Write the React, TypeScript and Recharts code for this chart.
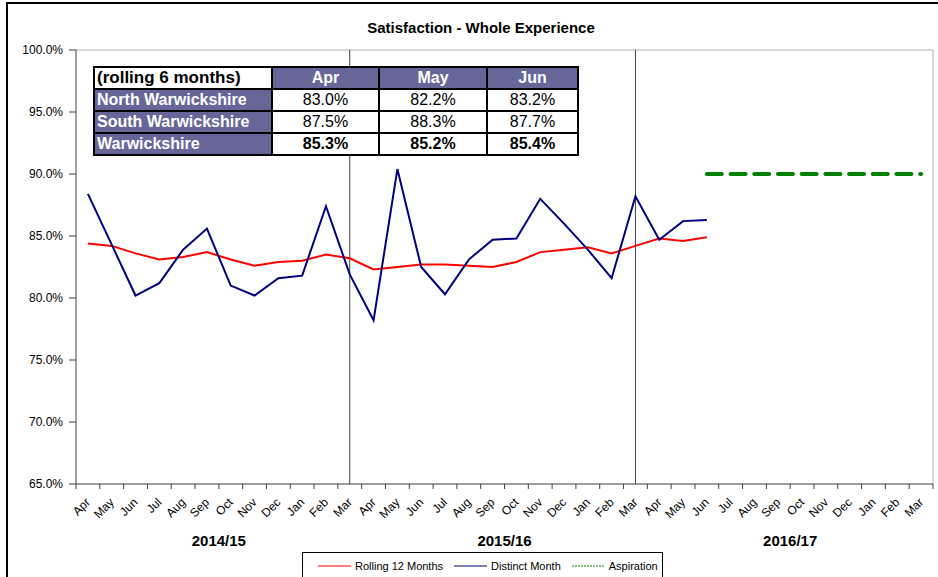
import React from "react";
import { LineChart, Line, XAxis, YAxis, ReferenceLine, Legend } from "recharts";

const MONTHS = ["Apr", "May", "Jun", "Jul", "Aug", "Sep", "Oct", "Nov", "Dec", "Jan", "Feb", "Mar"];
const YEARS = ["2014/15", "2015/16", "2016/17"];

// Apr 2014 .. Jun 2016
const ROLLING_12 = [
  84.4, 84.2, 83.6, 83.1, 83.3, 83.7, 83.1, 82.6, 82.9, 83.0, 83.5, 83.2,
  82.3, 82.5, 82.7, 82.7, 82.6, 82.5, 82.9, 83.7, 83.9, 84.1, 83.6, 84.2,
  84.8, 84.6, 84.9,
];
const DISTINCT_MONTH = [
  88.4, 84.3, 80.2, 81.2, 83.9, 85.6, 81.0, 80.2, 81.6, 81.8, 87.4, 81.9,
  78.2, 90.4, 82.5, 80.3, 83.1, 84.7, 84.8, 88.0, 86.0, 83.9, 81.6, 88.2,
  84.7, 86.2, 86.3,
];
// Jun 2016 .. Mar 2017
const ASPIRATION_FROM = 26;
const ASPIRATION = [90, 90, 90, 90, 90, 90, 90, 90, 90, 90];

const Y_TICKS = [65, 70, 75, 80, 85, 90, 95, 100];

const TABLE_MONTHS = ["Apr", "May", "Jun"];
const TABLE_AREAS = ["North Warwickshire", "South Warwickshire", "Warwickshire"];
const NORTH = [83.0, 82.2, 83.2];
const SOUTH = [87.5, 88.3, 87.7];
const COUNTY = [85.3, 85.2, 85.4];

const LEGEND_ORDER = ["rolling", "distinct", "aspiration"];

const W = 938;
const H = 577;
const MARGIN = { top: 50, right: 5, bottom: 0, left: 0 };
const Y_AXIS_W = 76;
const X_AXIS_H = 93;
const AXIS = "#404040";
const BORDER = "#b0b0b0";
const PURPLE = "#666699";
const FONT = '"Liberation Sans", Arial, sans-serif';

const data = YEARS.flatMap((year, y) =>
  MONTHS.map((month, m) => {
    const i = y * 12 + m;
    return {
      key: `${month} ${year}`,
      month,
      rolling: ROLLING_12[i] ?? null,
      distinct: DISTINCT_MONTH[i] ?? null,
      aspiration: i >= ASPIRATION_FROM ? ASPIRATION[i - ASPIRATION_FROM] : null,
    };
  })
);

const HALF = (W - MARGIN.left - MARGIN.right - Y_AXIS_W) / data.length / 2;

const MonthTick = (props: any) => {
  const { x, y, index } = props;
  const month = data[index]?.month ?? "";
  const lx = x + 3;
  const ly = y + 19;
  return (
    <g>
      <line x1={x - HALF} x2={x - HALF} y1={y} y2={y + 5} stroke={AXIS} />
      {index === data.length - 1 && (
        <line x1={x + HALF} x2={x + HALF} y1={y} y2={y + 5} stroke={AXIS} />
      )}
      <text
        x={lx}
        y={ly}
        transform={`rotate(-45 ${lx} ${ly})`}
        textAnchor="end"
        fontSize={12}
        fill="#000"
        fontFamily={FONT}
      >
        {month}
      </text>
      {index % 12 === 6 && (
        <text
          x={x - HALF}
          y={y + 62}
          textAnchor="middle"
          fontSize={15}
          fontWeight="bold"
          fill="#000"
          fontFamily={FONT}
        >
          {YEARS[Math.floor(index / 12)]}
        </text>
      )}
    </g>
  );
};

const LegendBox = (props: any) => {
  const items = [...(props.payload ?? [])].sort(
    (a: any, b: any) => LEGEND_ORDER.indexOf(a.dataKey) - LEGEND_ORDER.indexOf(b.dataKey)
  );
  return (
    <div
      style={{
        border: "1px solid #000",
        height: 27,
        boxSizing: "border-box",
        display: "flex",
        alignItems: "center",
        paddingLeft: 15,
        fontSize: 11,
        fontFamily: FONT,
        color: "#000",
        background: "#fff",
        whiteSpace: "nowrap",
      }}
    >
      {items.map((it: any) => (
        <div key={it.value} style={{ display: "flex", alignItems: "center", marginRight: 11 }}>
          <svg width={33} height={4} style={{ marginRight: 4 }}>
            <line
              x1={0}
              x2={33}
              y1={2}
              y2={2}
              stroke={it.color}
              strokeWidth={1}
              strokeDasharray={it.dataKey === "aspiration" ? "2 1" : undefined}
            />
          </svg>
          <span>{it.value}</span>
        </div>
      ))}
    </div>
  );
};

const cell: React.CSSProperties = {
  border: "2px solid #000",
  padding: 0,
  height: 20,
  lineHeight: "20px",
  fontSize: 16,
  textAlign: "center",
  background: "#fff",
  color: "#000",
};
const purple: React.CSSProperties = {
  ...cell,
  background: PURPLE,
  color: "#fff",
  fontWeight: "bold",
};

const fmt = (v: number) => `${v.toFixed(1)}%`;

export default function App() {
  const rows = [NORTH, SOUTH, COUNTY];
  return (
    <div style={{ position: "absolute", left: 0, top: 0, width: W, height: H, background: "#fff", overflow: "hidden", fontFamily: FONT }}>
      <div style={{ position: "absolute", left: 6, top: 2, width: W, height: H, borderTop: "2px solid #000", borderLeft: "2px solid #000" }} />
      <div style={{ position: "absolute", left: 0, top: 0 }}>
        <LineChart width={W} height={H} data={data} margin={MARGIN}>
          <XAxis
            dataKey="key"
            scale="band"
            interval={0}
            height={X_AXIS_H}
            tickSize={0}
            tickMargin={0}
            tickLine={false}
            axisLine={{ stroke: AXIS }}
            tick={<MonthTick />}
          />
          <YAxis
            domain={[65, 100]}
            ticks={Y_TICKS}
            allowDataOverflow
            width={Y_AXIS_W}
            tickSize={7}
            tickMargin={6}
            tickFormatter={fmt}
            axisLine={{ stroke: AXIS }}
            tickLine={{ stroke: AXIS }}
            tick={{ fontSize: 12, fill: "#000", fontFamily: FONT }}
          />
          <ReferenceLine y={100} stroke={BORDER} />
          <ReferenceLine x={data[data.length - 1].key} position="end" stroke={BORDER} />
          <ReferenceLine x={`Mar ${YEARS[0]}`} stroke={AXIS} />
          <ReferenceLine x={`Mar ${YEARS[1]}`} stroke={AXIS} />
          <Line
            name="Rolling 12 Months"
            dataKey="rolling"
            stroke="#ff0000"
            strokeWidth={2}
            dot={false}
            isAnimationActive={false}
          />
          <Line
            name="Distinct Month"
            dataKey="distinct"
            stroke="#000080"
            strokeWidth={2}
            dot={false}
            isAnimationActive={false}
          />
          <Line
            name="Aspiration"
            dataKey="aspiration"
            stroke="#008000"
            strokeWidth={4}
            strokeDasharray="15 8.7"
            strokeLinecap="round"
            dot={false}
            isAnimationActive={false}
          />
          <Legend
            layout="horizontal"
            verticalAlign="middle"
            align="center"
            wrapperStyle={{ left: 302, top: 552, width: 361, height: 27 }}
            content={<LegendBox />}
          />
        </LineChart>
      </div>
      <div style={{ position: "absolute", left: 0, width: 962, top: 19, textAlign: "center", fontSize: 15, fontWeight: "bold", color: "#000" }}>
        Satisfaction - Whole Experience
      </div>
      <table
        style={{
          position: "absolute",
          left: 93,
          top: 66,
          width: 484,
          borderCollapse: "collapse",
          tableLayout: "fixed",
          fontFamily: FONT,
        }}
      >
        <colgroup>
          <col style={{ width: 178 }} />
          <col style={{ width: 107 }} />
          <col style={{ width: 108 }} />
          <col style={{ width: 91 }} />
        </colgroup>
        <tbody>
          <tr>
            <td style={{ ...cell, textAlign: "left", paddingLeft: 2, fontWeight: "bold", fontSize: 17 }}>(rolling 6 months)</td>
            {TABLE_MONTHS.map((m) => (
              <td key={m} style={purple}>{m}</td>
            ))}
          </tr>
          {TABLE_AREAS.map((area, r) => (
            <tr key={area}>
              <td style={{ ...purple, textAlign: "left", paddingLeft: 2 }}>{area}</td>
              {rows[r].map((v, c) => (
                <td key={c} style={{ ...cell, fontWeight: r === 2 ? "bold" : "normal" }}>{fmt(v)}</td>
              ))}
            </tr>
          ))}
        </tbody>
      </table>
    </div>
  );
}
